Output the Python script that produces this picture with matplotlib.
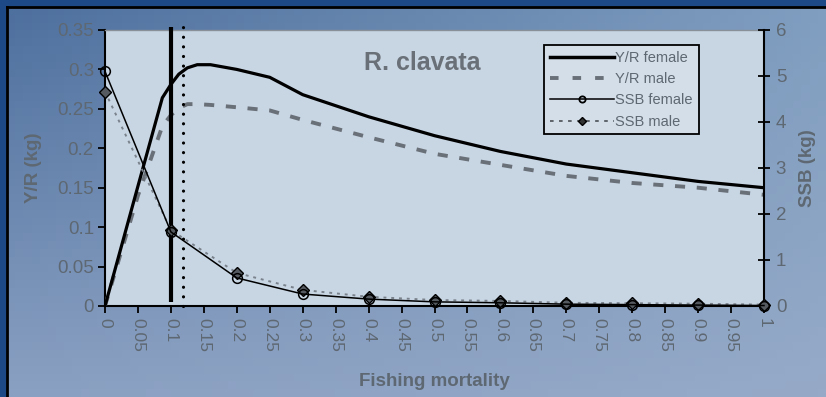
import numpy as np
import matplotlib
matplotlib.use("Agg")
import matplotlib.pyplot as plt
from matplotlib.lines import Line2D

plt.rcParams['font.family'] = ['Liberation Sans', 'DejaVu Sans']

# ---- data ----
f_yr = [0, 0.05, 0.087, 0.1, 0.112, 0.125, 0.14, 0.16, 0.2, 0.25, 0.3, 0.4, 0.5, 0.6, 0.7, 0.8, 0.9, 1.0]
yr_female = [0, 0.152, 0.264, 0.281, 0.294, 0.302, 0.306, 0.306, 0.300, 0.290, 0.268, 0.240, 0.216, 0.196, 0.180, 0.169, 0.158, 0.150]
yr_male = [0, 0.140, 0.228, 0.242, 0.251, 0.256, 0.256, 0.255, 0.252, 0.248, 0.236, 0.214, 0.193, 0.179, 0.165, 0.156, 0.150, 0.141]

f_ssb = [0, 0.1, 0.2, 0.3, 0.4, 0.5, 0.6, 0.7, 0.8, 0.9, 1.0]
ssb_female = [5.10, 1.61, 0.61, 0.26, 0.15, 0.09, 0.07, 0.04, 0.03, 0.02, 0.01]
ssb_male = [4.66, 1.65, 0.72, 0.35, 0.20, 0.13, 0.11, 0.07, 0.06, 0.05, 0.03]

f_ref = [0.1, 0.118]          # reference lines (solid, dotted)
x_ticks = [round(0.05 * i, 2) for i in range(21)]
x_ticklabels = ['0', '0.05', '0.1', '0.15', '0.2', '0.25', '0.3', '0.35', '0.4', '0.45', '0.5',
                '0.55', '0.6', '0.65', '0.7', '0.75', '0.8', '0.85', '0.9', '0.95', '1']
y_ticks = [0, 0.05, 0.1, 0.15, 0.2, 0.25, 0.3, 0.35]
y_ticklabels = ['0', '0.05', '0.1', '0.15', '0.2', '0.25', '0.3', '0.35']
y2_ticks = [0, 1, 2, 3, 4, 5, 6]

W, H = 826, 397
fig = plt.figure(figsize=(W / 100, H / 100), dpi=100)
fig.patch.set_facecolor('#1d4a86')

# inner panel with gradient
bg = fig.add_axes([7 / W, 0, 1 - 7 / W, 1 - 7 / H])
tl = np.array([78, 112, 158]); tr = np.array([128, 158, 192])
bl = np.array([138, 160, 194]); br = np.array([150, 170, 200])
ny, nx = 50, 100
u = np.linspace(0, 1, nx)[None, :, None]
v = np.linspace(0, 1, ny)[:, None, None]
img = (tl * (1 - u) * (1 - v) + tr * u * (1 - v) + bl * (1 - u) * v + br * u * v) / 255
bg.imshow(img, aspect='auto', extent=[0, 1, 0, 1], origin='upper')
bg.set_xticks([]); bg.set_yticks([])
for s in ['right', 'bottom']:
    bg.spines[s].set_visible(False)
for s in ['left', 'top']:
    bg.spines[s].set_color('black'); bg.spines[s].set_linewidth(2)

grey_txt = '#5e6872'
ax = fig.add_axes([105 / W, 1 - 306 / H, (764 - 105) / W, (306 - 30) / H])
ax.set_facecolor('#c8d6e4')
ax.set_xlim(0, 1)
ax.set_ylim(0, 0.35)

ax.plot(f_yr, yr_female, color='black', lw=2.3, solid_joinstyle='round', zorder=4)
ax.plot(f_yr, yr_male, color='#6a7078', lw=2.8, dashes=(2.6, 3.0), zorder=3)

ax.plot([f_ref[0], f_ref[0]], [0.005, 0.354], color='black', lw=3.0, solid_capstyle='butt',
        clip_on=False, zorder=6)
ax.plot([f_ref[1], f_ref[1]], [0.0, 0.357], color='black', lw=2.3, linestyle=(0, (0.01, 3.0)),
        dash_capstyle='round', clip_on=False, zorder=6)

ax.set_xticks(x_ticks)
ax.set_xticklabels(x_ticklabels, rotation=270, fontsize=12.5, color=grey_txt)
ax.set_yticks(y_ticks)
ax.set_yticklabels(y_ticklabels, fontsize=13.5, color=grey_txt)
ax.tick_params(axis='both', direction='out', length=5, width=1.3, color='black')
ax.tick_params(axis='x', pad=4)
ax.tick_params(axis='y', pad=3)
ax.spines['top'].set_color('#8a9098'); ax.spines['top'].set_linewidth(1.0)
for s in ['left', 'bottom']:
    ax.spines[s].set_color('black'); ax.spines[s].set_linewidth(1.5)
ax.spines['right'].set_visible(False)

ax2 = ax.twinx()
ax2.set_ylim(0, 6)
ax2.set_yticks(y2_ticks)
ax2.set_yticklabels([str(t) for t in y2_ticks], fontsize=13.5, color=grey_txt)
ax2.tick_params(axis='y', direction='inout', length=9, width=1.3, color='black', pad=4)
ax2.spines['right'].set_color('black'); ax2.spines['right'].set_linewidth(1.5)
for s in ['top', 'left', 'bottom']:
    ax2.spines[s].set_visible(False)

ax2.plot(f_ssb, ssb_male, color='#7a828c', lw=1.4, dashes=(1.5, 2.5), marker='D', markersize=6.5,
         markerfacecolor='#555a60', markeredgecolor='black', markeredgewidth=1.0, clip_on=False, zorder=5)
ax2.plot(f_ssb, ssb_female, color='black', lw=1.1, marker='o', markersize=7,
         markerfacecolor='none', markeredgecolor='black', markeredgewidth=1.1, clip_on=False, zorder=5)

ax.text(0.482, 0.88, 'R. clavata', transform=ax.transAxes, ha='center', va='center',
        fontsize=18, fontweight='bold', color='#6a7077')

fig.text(34 / W, 1 - 168 / H, 'Y/R (kg)', rotation=90, ha='center', va='center',
         fontsize=13.5, fontweight='bold', color=grey_txt)
fig.text(808 / W, 1 - 168 / H, 'SSB (kg)', rotation=90, ha='center', va='center',
         fontsize=13.5, fontweight='bold', color=grey_txt)
fig.text(434 / W, 1 - 382 / H, 'Fishing mortality', ha='center', va='center',
         fontsize=13.5, fontweight='bold', color=grey_txt)

handles = [
    Line2D([], [], color='black', lw=2.5),
    Line2D([], [], color='#6a7078', lw=2.8, dashes=(2.2, 3.6)),
    Line2D([], [], color='black', lw=1.1, marker='o', markersize=4.5, markerfacecolor='none',
           markeredgecolor='black', markeredgewidth=1.3),
    Line2D([], [], color='#555a60', lw=1.3, dashes=(2, 3), marker='D', markersize=4.5,
           markerfacecolor='#333', markeredgecolor='black'),
]
labels = ['Y/R female', 'Y/R male', 'SSB female', 'SSB male']
leg = ax2.legend(handles, labels, loc='upper left', bbox_to_anchor=(0.666, 0.946),
                 fontsize=10.5, frameon=True, fancybox=False, handlelength=4.4, handletextpad=0.1,
                 labelspacing=0.5, borderpad=0.4, borderaxespad=0)
leg.get_frame().set_edgecolor('black'); leg.get_frame().set_linewidth(1.3)
leg.get_frame().set_facecolor('#d3dee9'); leg.get_frame().set_alpha(1)
for t in leg.get_texts():
    t.set_color(grey_txt)

fig.savefig('out.png', dpi=100, facecolor=fig.get_facecolor())
